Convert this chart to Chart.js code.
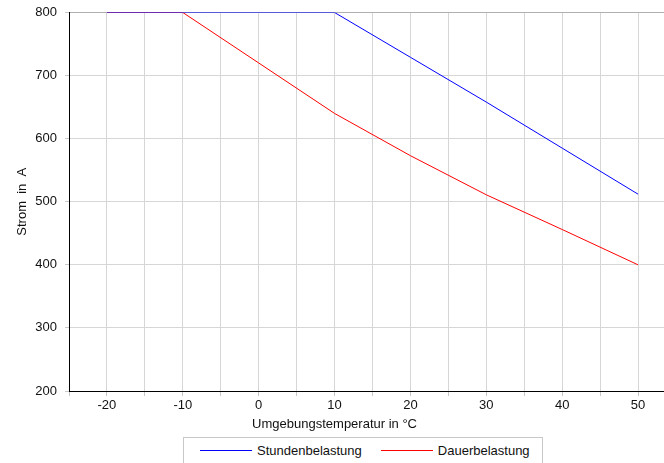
<!DOCTYPE html>
<html>
<head>
<meta charset="utf-8">
<script src="https://cdn.jsdelivr.net/npm/chart.js@4.4.1/dist/chart.umd.min.js"></script>
<style>
  html, body { margin: 0; padding: 0; background: #fff; overflow: hidden; }
  #wrap { position: relative; width: 664px; height: 463px; overflow: hidden; }
  #chart { position: absolute; left: 0; top: 0; }
  #legend {
    position: absolute; left: 183px; top: 437px; width: 360px; height: 30px;
    border: 1px solid #c8c8c8; box-sizing: border-box;
    font: 13px "Liberation Sans", Arial, sans-serif; color: #111;
    display: flex; align-items: center; padding-left: 16px; padding-bottom: 3px;
  }
  .item { display: flex; align-items: center; margin-right: 19px; }
  .line { width: 52px; height: 1px; margin-right: 5px; }
</style>
</head>
<body>
<div id="wrap">
  <canvas id="chart" width="680" height="437"></canvas>
  <div id="legend"></div>
</div>
<script>
const temps = [-20, -10, 0, 10, 20, 30, 40, 50];
const stunden = [800, 800, 800, 800, 729, 658, 585, 512];
const dauer = [800, 800, 720, 640, 573, 511, 456, 400];
const xTitle = "Umgebungstemperatur in °C";
const yTitle = "Strom  in  A";

const font = { family: "'Liberation Sans', Arial, sans-serif", size: 13 };

const xTitlePlugin = {
  id: "xTitle",
  afterDraw(chart) {
    const c = chart.ctx;
    const xs = chart.scales.x;
    c.save();
    c.font = "13px 'Liberation Sans', Arial, sans-serif";
    c.fillStyle = "#111";
    c.textAlign = "center";
    c.textBaseline = "middle";
    c.fillText(xTitle, xs.getPixelForValue(10), chart.chartArea.bottom + 33);
    c.restore();
  }
};

const ctx = document.getElementById("chart");

const chart = new Chart(ctx, {
  type: "line",
  data: {
    datasets: [
      {
        label: "Stundenbelastung",
        data: temps.map((t, i) => ({ x: t, y: stunden[i] })),
        borderColor: "#0000ff",
        borderWidth: 1,
        pointRadius: 0,
        tension: 0
      },
      {
        label: "Dauerbelastung",
        data: temps.map((t, i) => ({ x: t, y: dauer[i] })),
        borderColor: "#ff0000",
        borderWidth: 1,
        pointRadius: 0,
        tension: 0
      }
    ]
  },
  options: {
    responsive: false,
    animation: false,
    layout: { padding: { left: 5, right: 4, top: 12.5, bottom: 0 } },
    plugins: { legend: { display: false }, tooltip: { enabled: false } },
    scales: {
      x: {
        type: "linear",
        min: -25,
        max: 55,
        ticks: {
          stepSize: 5,
          autoSkip: false,
          maxRotation: 0,
          color: "#111",
          font,
          padding: 2,
          callback: v => (v % 10 === 0 && v < 55 ? v : "")
        },
        grid: { color: "#d6d6d6", tickLength: 5, tickColor: "#c8c8c8" },
        border: { color: "#000", width: 1 },
        afterFit: s => { s.height = 46; s.paddingLeft = 0; s.paddingRight = 0; }
      },
      y: {
        min: 200,
        max: 800,
        ticks: { stepSize: 100, color: "#111", font, padding: 8 },
        grid: {
          color: c => (c.tick && c.tick.value === 800 ? "#b0b0b0" : "#d6d6d6"),
          tickLength: 4,
          tickColor: "#c8c8c8"
        },
        border: { color: "#000", width: 1 },
        title: { display: true, text: yTitle, color: "#111", font, padding: { top: 10, bottom: 0 } },
        afterFit: s => { s.width = 64; s.paddingTop = 0; s.paddingBottom = 0; }
      }
    }
  },
  plugins: [xTitlePlugin]
});

document.getElementById("legend").innerHTML = chart.data.datasets
  .map(
    d => `
  <div class="item"><span class="line" style="background:${d.borderColor}"></span>${d.label}</div>`
  )
  .join("");
</script>
</body>
</html>
